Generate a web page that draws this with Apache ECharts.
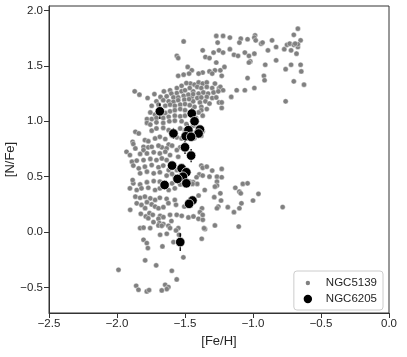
<!DOCTYPE html>
<html>
<head>
<meta charset="utf-8">
<script src="https://cdn.jsdelivr.net/npm/echarts@6/dist/echarts.min.js"></script>
<style>
  html, body { margin: 0; padding: 0; background: #fff; }
  #chart { width: 407px; height: 357px; }
</style>
</head>
<body>
<div id="chart"></div>
<script>
// ticks
const xTicks = [-2.5, -2.0, -1.5, -1.0, -0.5, 0.0];
const yTicks = [-0.5, 0.0, 0.5, 1.0, 1.5, 2.0];

// NGC5139 stars [Fe/H, N/Fe]
const ngc5139 = [
  // upper arm
  [-1.51,1.72],[-1.56,1.59],[-1.55,1.57],
  [-1.37,1.64],[-1.35,1.58],[-1.29,1.62],[-1.25,1.64],[-1.22,1.62],[-1.17,1.65],[-1.14,1.60],
  [-1.11,1.59],[-1.06,1.62],[-1.03,1.59],[-1.02,1.54],[-0.99,1.61],[-0.94,1.70],[-0.93,1.71],
  [-0.89,1.64],[-0.86,1.73],[-0.83,1.67],[-0.83,1.55],[-0.77,1.65],[-0.75,1.69],[-0.73,1.70],
  [-0.72,1.64],[-0.70,1.69],[-0.68,1.61],[-0.67,1.67],[-0.76,1.47],[-0.72,1.51],[-0.65,1.73],
  [-0.65,1.51],[-0.645,1.45],[-0.70,1.36],[-0.625,1.33],[-0.76,1.18],[-0.91,1.51],[-0.92,1.41],
  [-0.915,1.37],[-1.04,1.39],[-0.99,1.30],[-1.06,1.28],[-1.12,1.28],[-1.16,1.22],[-1.24,1.46],
  [-1.23,1.41],[-1.21,1.49],[-1.28,1.46],[-1.32,1.45],[-1.30,1.43],[-1.25,1.30],[-1.25,1.17],
  [-1.23,1.12],[-1.27,1.53],[-1.32,1.57],[-1.37,1.44],
  [-1.27,1.77],[-1.22,1.77],[-1.17,1.755],[-1.26,1.71],[-1.09,1.745],[-1.10,1.71],[-1.04,1.74],
  [-0.985,1.775],[-0.99,1.755],[-0.98,1.73],[-0.67,1.835],[-0.70,1.78],[-0.67,1.695],[-0.69,1.70],
  [-1.03,1.53],
  // dense upper band
  [-1.46,1.34],[-1.43,1.33],[-1.40,1.35],[-1.37,1.34],[-1.34,1.35],[-1.28,1.34],[-1.41,1.31],
  [-1.38,1.30],[-1.34,1.31],[-1.30,1.30],[-1.24,1.31],[-1.22,1.28],[-1.44,1.27],[-1.40,1.25],
  [-1.365,1.26],[-1.33,1.25],[-1.29,1.26],[-1.255,1.27],[-1.45,1.22],[-1.41,1.21],[-1.38,1.215],
  [-1.34,1.22],[-1.30,1.21],[-1.27,1.215],[-1.44,1.18],[-1.39,1.17],[-1.35,1.18],[-1.32,1.16],
  [-1.43,1.13],[-1.38,1.13],[-1.34,1.11],[-1.23,1.17],[-1.38,1.10],
  [-1.48,1.49],[-1.45,1.46],[-1.55,1.41],[-1.51,1.42],[-1.47,1.43],[-1.40,1.43],
  // main clump
  [-1.87,1.27],[-1.835,1.24],[-1.775,1.21],[-1.725,1.245],[-1.655,1.27],[-1.61,1.28],[-1.56,1.30],
  [-1.525,1.32],[-1.49,1.345],
  [-1.60,1.25],[-1.56,1.255],[-1.525,1.27],[-1.50,1.28],[-1.465,1.30],
  [-1.68,1.22],[-1.635,1.225],[-1.585,1.215],[-1.55,1.215],[-1.51,1.23],[-1.475,1.24],[-1.44,1.245],
  [-1.71,1.18],[-1.66,1.19],[-1.62,1.18],[-1.585,1.175],[-1.55,1.19],[-1.505,1.195],[-1.47,1.20],
  [-1.745,1.14],[-1.695,1.15],[-1.645,1.14],[-1.61,1.15],[-1.575,1.14],[-1.535,1.15],[-1.50,1.155],
  [-1.465,1.145],
  [-1.755,1.08],[-1.72,1.06],[-1.645,1.075],[-1.61,1.09],[-1.575,1.10],[-1.535,1.11],[-1.50,1.10],
  [-1.78,1.02],[-1.745,1.02],[-1.71,1.03],[-1.66,1.03],[-1.62,1.04],[-1.575,1.05],[-1.535,1.045],
  [-1.50,1.05],
  [-1.78,0.985],[-1.755,0.97],[-1.71,0.99],[-1.66,0.985],[-1.615,1.00],[-1.575,1.005],[-1.525,1.00],
  [-1.49,0.975],
  [-1.865,0.905],[-1.84,0.89],[-1.745,0.915],[-1.71,0.935],[-1.66,0.94],[-1.62,0.92],[-1.535,0.935],
  [-1.50,0.92],[-1.465,0.935],
  [-1.885,0.815],[-1.88,0.795],[-1.795,0.83],[-1.77,0.82],[-1.72,0.845],[-1.685,0.86],[-1.645,0.84],
  [-1.595,0.87],[-1.56,0.855],[-1.525,0.845],[-1.45,0.855],
  [-1.805,0.77],[-1.67,0.765],[-1.62,0.79],[-1.535,0.765],[-1.49,0.78],
  [-1.93,0.725],[-1.865,0.755],[-1.805,0.74],[-1.77,0.765],[-1.745,0.77],[-1.695,0.78],[-1.635,0.755],
  [-1.595,0.78],[-1.56,0.74],
  [-1.905,0.695],[-1.83,0.705],[-1.78,0.71],[-1.73,0.72],[-1.685,0.71],[-1.645,0.725],[-1.61,0.695],
  [-1.55,0.68],
  [-1.89,0.635],[-1.855,0.645],[-1.805,0.65],[-1.755,0.66],[-1.71,0.65],[-1.67,0.665],[-1.635,0.65],
  [-1.88,0.60],[-1.84,0.575],[-1.795,0.59],[-1.745,0.605],[-1.695,0.585],[-1.66,0.60],[-1.62,0.56],
  [-1.56,0.56],
  [-1.575,0.50],[-1.50,0.47],[-1.535,0.43],[-1.465,0.455],
  [-1.83,0.53],[-1.78,0.545],[-1.73,0.53],[-1.685,0.54],[-1.635,0.51],[-1.595,0.525],
  [-1.88,0.44],[-1.83,0.43],[-1.78,0.45],[-1.73,0.46],[-1.685,0.455],[-1.595,0.44],[-1.885,0.47],
  [-1.905,0.395],[-1.855,0.38],[-1.82,0.395],[-1.77,0.40],[-1.72,0.38],[-1.685,0.395],[-1.62,0.38],
  [-1.575,0.395],
  [-1.865,0.32],[-1.83,0.31],[-1.795,0.32],[-1.755,0.305],[-1.72,0.29],[-1.685,0.31],[-1.635,0.30],
  [-1.575,0.29],
  [-1.745,0.25],[-1.72,0.23],[-1.695,0.215],[-1.855,0.26],[-1.82,0.245],[-1.78,0.27],
  [-1.793,0.216],[-1.659,0.225],[-1.622,0.261],[-1.566,0.246],[-1.505,0.231],[-1.903,0.201],
  [-1.825,0.165],[-1.788,0.141],[-1.761,0.171],[-1.737,0.156],[-1.683,0.147],[-1.695,0.12],
  [-1.659,0.135],[-1.61,0.156],[-1.561,0.156],[-1.524,0.147],[-1.475,0.132],[-1.438,0.141],
  [-1.401,0.12],[-1.369,0.111],[-1.732,0.09],[-1.688,0.081],[-1.659,0.072],[-1.622,0.057],
  [-1.61,0.036],[-1.549,0.036],[-1.83,0.036],[-1.566,0.015],[-1.77,0.125],[-1.60,0.10],
  // lower tail
  [-1.805,0.04],[-1.756,0.036],[-1.695,0.06],[-1.671,0.057],[-1.683,-0.024],[-1.634,-0.015],
  [-1.544,-0.024],[-1.805,-0.069],[-1.781,-0.099],[-1.773,-0.144],[-1.666,-0.129],[-1.585,-0.09],
  [-1.377,-0.06],[-1.353,0.027],[-1.512,-0.228],[-1.793,-0.255],[-1.712,-0.30],[-1.597,-0.349],
  [-1.561,-0.427],[-1.989,-0.34],[-1.859,-0.484],[-1.842,-0.52],[-1.781,-0.535],[-1.764,-0.523],
  [-1.646,-0.475],[-1.622,-0.496],[-1.634,-0.514],[-1.671,-0.526],
  // lower right group
  [-1.38,0.60],[-1.37,0.58],[-1.34,0.59],[-1.30,0.555],[-1.23,0.57],[-1.395,0.52],[-1.37,0.51],
  [-1.415,0.495],[-1.32,0.50],[-1.265,0.50],[-1.23,0.495],[-1.44,0.45],[-1.41,0.435],[-1.445,0.435],
  [-1.265,0.455],[-1.265,0.42],[-1.28,0.41],[-1.355,0.38],[-1.13,0.40],[-1.10,0.365],[-1.09,0.35],
  [-1.075,0.435],[-1.04,0.44],[-0.96,0.345],[-1.24,0.35],[-1.285,0.315],[-1.235,0.285],[-1.40,0.33],
  [-1.255,0.23],[-1.265,0.215],[-1.185,0.225],[-1.14,0.18],[-1.10,0.215],[-1.085,0.26],[-1.00,0.285],
  [-1.375,0.215],[-1.39,0.18],[-1.37,0.155],[-1.28,0.06],[-1.105,0.05],[-1.36,0.035],[-0.782,0.226],
  // among NGC6205 stars
  [-1.42,0.90],[-1.37,0.91],[-1.38,0.87],[-1.43,0.85],[-1.41,0.95],[-1.44,0.96],[-1.42,1.03],
  [-1.37,1.05],[-1.40,1.08]
];

// NGC6205 stars [Fe/H, N/Fe] and their [N/Fe] errors
const ngc6205 = [
  [-1.685,1.09],[-1.45,1.07],[-1.43,1.00],[-1.585,0.89],[-1.475,0.92],[-1.39,0.925],[-1.40,0.89],
  [-1.495,0.865],[-1.455,0.86],[-1.50,0.765],[-1.455,0.69],[-1.595,0.60],[-1.525,0.575],[-1.49,0.54],
  [-1.515,0.50],[-1.555,0.48],[-1.49,0.44],[-1.65,0.425],[-1.445,0.285],[-1.47,0.255],[-1.535,-0.09]
];
const ngc6205Err = [
  0.07,0.05,0.04,0.05,0.05,0.04,0.04,0.04,0.04,0.06,0.06,0.03,0.04,0.04,0.04,0.04,0.04,0.04,0.04,0.04,0.08
];

const fmt = v => v.toFixed(1).replace('-', '\u2212');
const svgIcon = (r, fill) => 'image://data:image/svg+xml;charset=utf-8,' + encodeURIComponent(
  '<svg xmlns="http://www.w3.org/2000/svg" width="20" height="10" viewBox="0 0 20 10">' +
  '<circle cx="10" cy="5" r="' + r + '" fill="' + fill + '"/></svg>');

const chart = echarts.init(document.getElementById('chart'));
const axisColor = '#333';
const textColor = '#262626';
chart.setOption({
  animation: false,
  textStyle: { fontFamily: 'Liberation Sans, Arial, sans-serif' },
  grid: {
    left: 49, right: 18, top: 6, bottom: 44,
    containLabel: false, outerBoundsMode: 'none',
    show: true, borderColor: axisColor, borderWidth: 1
  },
  xAxis: {
    type: 'value', min: -2.5, max: 0, interval: 0.5,
    name: '[Fe/H]', nameLocation: 'middle', nameGap: 22, nameMoveOverlap: false,
    nameTextStyle: { fontSize: 13, color: textColor },
    axisLine: { show: true, onZero: false, lineStyle: { color: axisColor } },
    axisTick: { show: true, length: 5, lineStyle: { color: axisColor } },
    axisLabel: { fontSize: 11.5, color: textColor, margin: 5, formatter: fmt, customValues: xTicks },
    splitLine: { show: false }
  },
  yAxis: {
    type: 'value', min: -0.73, max: 2.04,
    name: '[N/Fe]', nameLocation: 'middle', nameGap: 32, nameMoveOverlap: false,
    nameTextStyle: { fontSize: 13, color: textColor },
    axisLine: { show: true, onZero: false, lineStyle: { color: axisColor } },
    axisTick: { show: true, length: 5, lineStyle: { color: axisColor }, customValues: yTicks },
    axisLabel: { fontSize: 11.5, color: textColor, margin: 6, formatter: fmt, customValues: yTicks },
    splitLine: { show: false }
  },
  legend: {
    orient: 'vertical', right: 24, bottom: 47,
    itemWidth: 20, itemHeight: 10, itemGap: 4,
    padding: [6, 6, 5, 4],
    backgroundColor: 'rgba(255,255,255,0.8)', borderColor: '#cccccc', borderWidth: 1, borderRadius: 3,
    textStyle: { fontSize: 11.5, color: textColor, padding: [0, 0, 0, 3] },
    data: [
      { name: 'NGC5139', icon: svgIcon(2.2, '#808080') },
      { name: 'NGC6205', icon: svgIcon(4.2, '#000000') }
    ]
  },
  series: [
    {
      name: 'NGC5139', type: 'scatter', data: ngc5139, symbolSize: 5.2, z: 2,
      itemStyle: { color: '#808080', borderColor: '#ffffff', borderWidth: 0.4, opacity: 1 }
    },
    {
      name: 'NGC6205 err', type: 'custom', z: 3, silent: true,
      data: ngc6205.map((p, i) => [p[0], p[1], ngc6205Err[i]]),
      encode: { x: 0, y: 1 },
      renderItem: function (params, api) {
        const x = api.value(0), y = api.value(1), e = api.value(2);
        const a = api.coord([x, y + e]);
        const b = api.coord([x, y - e]);
        return {
          type: 'line',
          shape: { x1: a[0], y1: a[1], x2: b[0], y2: b[1] },
          style: { stroke: '#000', lineWidth: 1.3 }
        };
      }
    },
    {
      name: 'NGC6205', type: 'scatter', data: ngc6205, symbolSize: 9.5, z: 4,
      itemStyle: { color: '#000000', borderColor: '#ffffff', borderWidth: 0.7, opacity: 1 }
    }
  ]
});
</script>
</body>
</html>
